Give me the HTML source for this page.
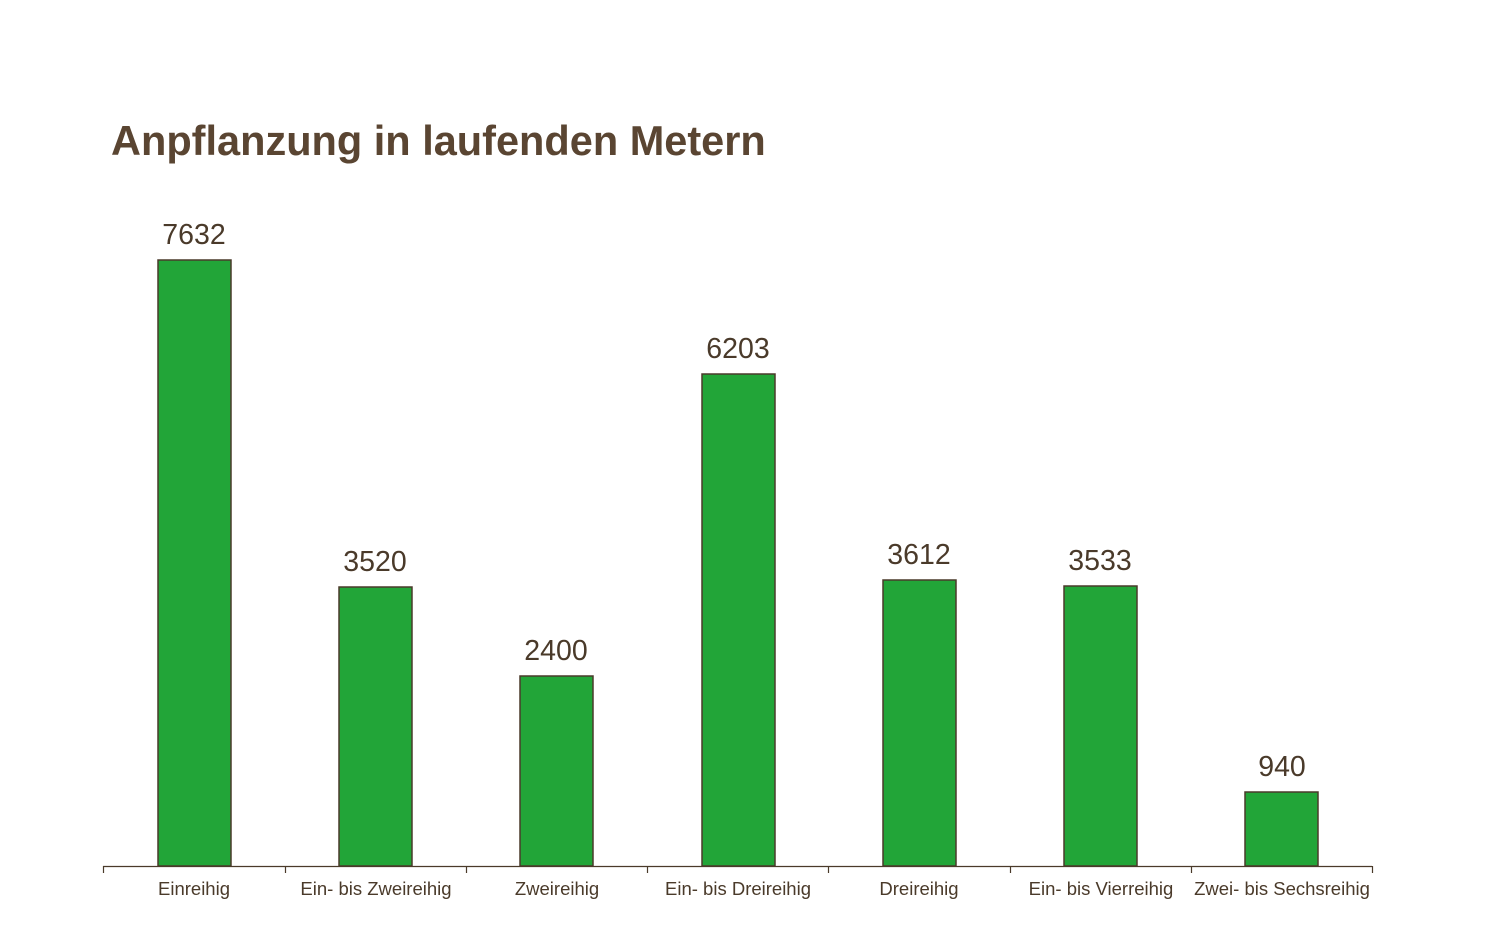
<!DOCTYPE html>
<html><head><meta charset="utf-8"><style>body{margin:0;background:#fff}svg{display:block}</style></head><body>
<svg width="1499" height="927" xmlns="http://www.w3.org/2000/svg" font-family="Liberation Sans, sans-serif">
<rect width="1499" height="927" fill="#fff"/>
<text x="111" y="155" font-size="41.5" font-weight="bold" fill="#5a4532">Anpflanzung in laufenden Metern</text>
<g fill="#22a538" stroke="#4a3a2a" stroke-width="1.5">
<rect x="158" y="260" width="73" height="606"/>
<rect x="339" y="587" width="73" height="279"/>
<rect x="520" y="676" width="73" height="190"/>
<rect x="702" y="374" width="73" height="492"/>
<rect x="883" y="580" width="73" height="286"/>
<rect x="1064" y="586" width="73" height="280"/>
<rect x="1245" y="792" width="73" height="74"/>
</g>
<g stroke="#4a3a2a" stroke-width="1.2">
<line x1="103" y1="866.5" x2="1372" y2="866.5"/>
<line x1="103.5" y1="866" x2="103.5" y2="873"/><line x1="285.5" y1="866" x2="285.5" y2="873"/><line x1="466.5" y1="866" x2="466.5" y2="873"/><line x1="647.5" y1="866" x2="647.5" y2="873"/><line x1="828.5" y1="866" x2="828.5" y2="873"/><line x1="1010.5" y1="866" x2="1010.5" y2="873"/><line x1="1191.5" y1="866" x2="1191.5" y2="873"/><line x1="1372.5" y1="866" x2="1372.5" y2="873"/>
</g>
<g font-size="28.5" fill="#4a3a2a" text-anchor="middle">
<text x="194" y="244">7632</text><text x="375" y="571">3520</text><text x="556" y="660">2400</text><text x="738" y="358">6203</text><text x="919" y="564">3612</text><text x="1100" y="570">3533</text><text x="1282" y="776">940</text>
</g>
<g font-size="18.5" fill="#4a3a2a" text-anchor="middle">
<text x="194" y="895">Einreihig</text><text x="376" y="895">Ein- bis Zweireihig</text><text x="557" y="895">Zweireihig</text><text x="738" y="895">Ein- bis Dreireihig</text><text x="919" y="895">Dreireihig</text><text x="1101" y="895">Ein- bis Vierreihig</text><text x="1282" y="895">Zwei- bis Sechsreihig</text>
</g>
</svg>
</body></html>
